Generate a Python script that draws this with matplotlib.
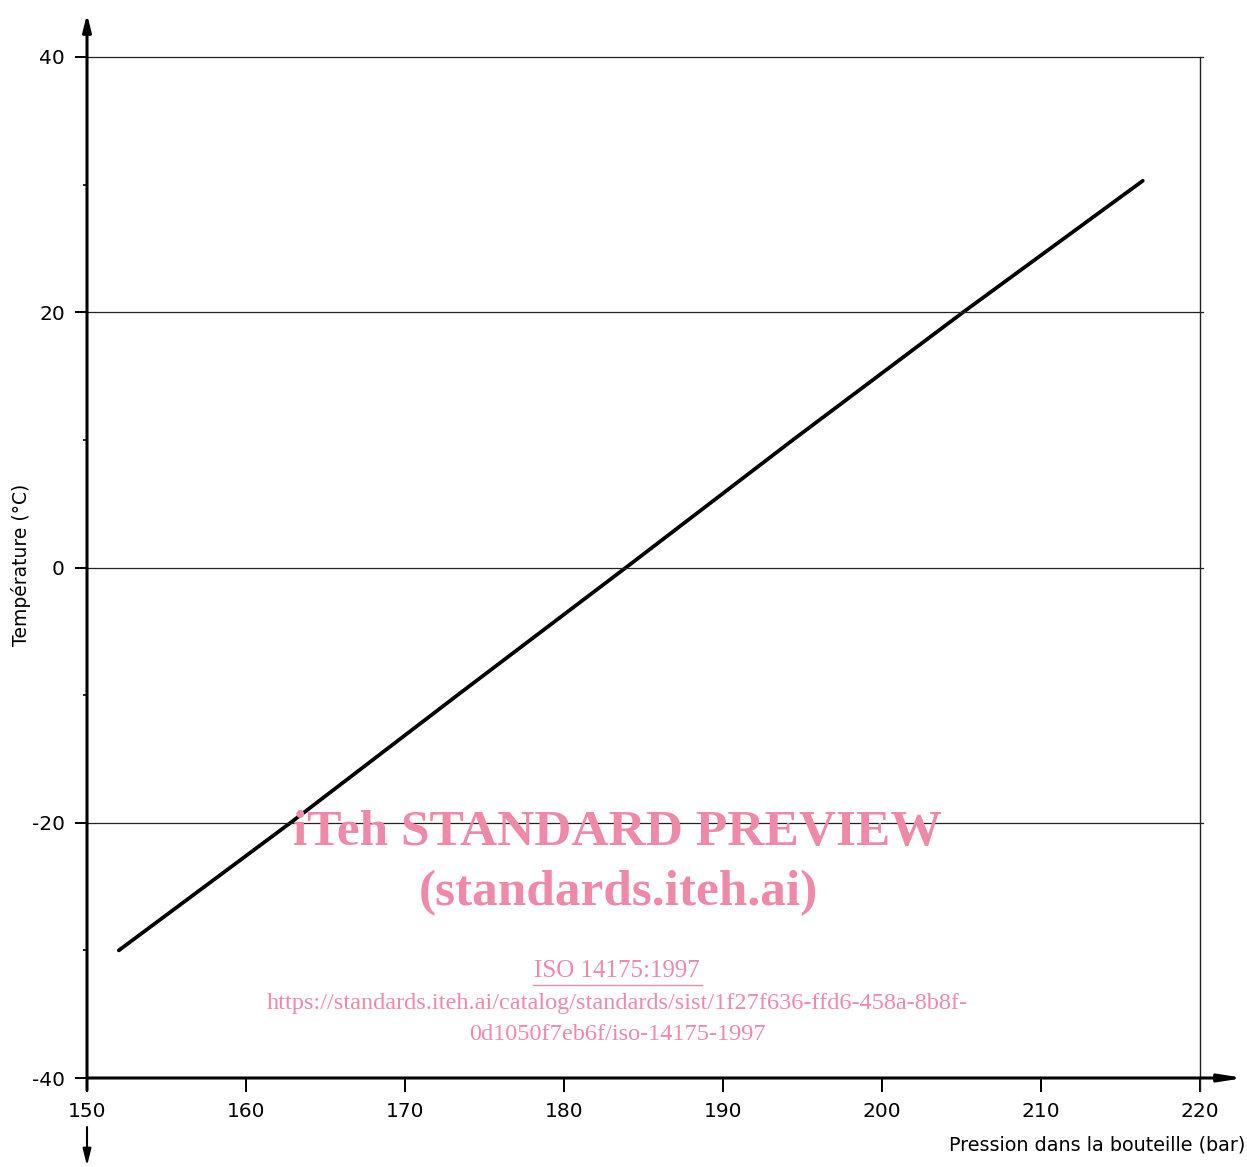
import matplotlib
matplotlib.use('Agg')
import matplotlib.pyplot as plt
import numpy as np

plt.rcParams['axes.unicode_minus'] = False

# values
pression    = [152.0, 162.8, 173.3, 183.9, 194.4, 205.1, 216.4]
temperature = [-30.0, -20.0, -10.0, 0.0, 10.0, 20.0, 30.3]

x_ticks  = [150, 160, 170, 180, 190, 200, 210, 220]
y_ticks  = [-40, -20, 0, 20, 40]
y_minor  = [-30, -10, 10, 30]
y_grid   = [-20, 0, 20, 40]

xlabel = 'Pression dans la bouteille (bar)'
ylabel = 'Température (°C)'

PINK = '#ee8aa8'

fig = plt.figure(figsize=(12.47, 11.67), dpi=100)
ax = fig.add_axes([87/1247, 89/1167, 1113/1247, 1021/1167])

ax.plot(pression, temperature, color='black', linewidth=2.7, solid_capstyle='round')

for g in y_grid:
    ax.plot([150, 220.2], [g, g], color='#222222', linewidth=0.9, clip_on=False)
ax.plot([220, 220], [40, -41], color='#222222', linewidth=1.0, clip_on=False)

ax.set_xlim(150, 220)
ax.set_ylim(-40, 40)
for s in ['top', 'right', 'left', 'bottom']:
    ax.spines[s].set_visible(False)

ax.set_xticks(x_ticks)
ax.set_yticks(y_ticks)
ax.set_yticks(y_minor, minor=True)
ax.tick_params(axis='x', length=10, width=1.4, labelsize=14.5, pad=7, direction='out')
ax.tick_params(axis='y', length=9, width=1.4, labelsize=14.5, pad=7, direction='out')
ax.tick_params(axis='y', which='minor', length=3, width=1.2)

# axis lines with arrows
ax.annotate('', xy=(0, 1.042), xytext=(0, -0.012), xycoords='axes fraction',
            arrowprops=dict(arrowstyle='-|>,head_length=1.0,head_width=0.25',
                            color='black', lw=2.2, shrinkA=0, shrinkB=0))
ax.annotate('', xy=(0, -0.086), xytext=(0, -0.048), xycoords='axes fraction',
            arrowprops=dict(arrowstyle='-|>,head_length=1.0,head_width=0.25',
                            color='black', lw=1.5, shrinkA=0, shrinkB=0))
ax.annotate('', xy=(1.0395, 0), xytext=(0, 0), xycoords='axes fraction',
            arrowprops=dict(arrowstyle='-|>,head_length=1.4,head_width=0.22',
                            color='black', lw=2.2, shrinkA=0, shrinkB=0))

fig.text(1245/1247, 1-1145/1167, xlabel, ha='right', va='center', fontsize=13.8)
fig.text(21/1247, 1-565/1167, ylabel, ha='center', va='center', rotation=90, fontsize=13.5)

# watermark
fig.text(617/1247, 1-833/1167, 'iTeh STANDARD PREVIEW', ha='center', va='center',
         fontsize=37, fontweight='bold', family='Liberation Serif', color=PINK)
fig.text(618/1247, 1-893/1167, '(standards.iteh.ai)', ha='center', va='center',
         fontsize=37, fontweight='bold', family='Liberation Serif', color=PINK)
fig.text(617/1247, 1-971/1167, 'ISO 14175:1997', ha='center', va='center',
         fontsize=18, family='Liberation Serif', color=PINK)
fig.add_artist(plt.Line2D([533/1247, 702/1247], [1-985/1167, 1-985/1167], color=PINK, lw=1))
fig.text(617/1247, 1-1003/1167,
         'https://standards.iteh.ai/catalog/standards/sist/1f27f636-ffd6-458a-8b8f-',
         ha='center', va='center', fontsize=17.5, family='Liberation Serif', color=PINK)
fig.text(617/1247, 1-1035/1167, '0d1050f7eb6f/iso-14175-1997', ha='center', va='center',
         fontsize=17.5, family='Liberation Serif', color=PINK)

plt.savefig('out.png', dpi=100)
